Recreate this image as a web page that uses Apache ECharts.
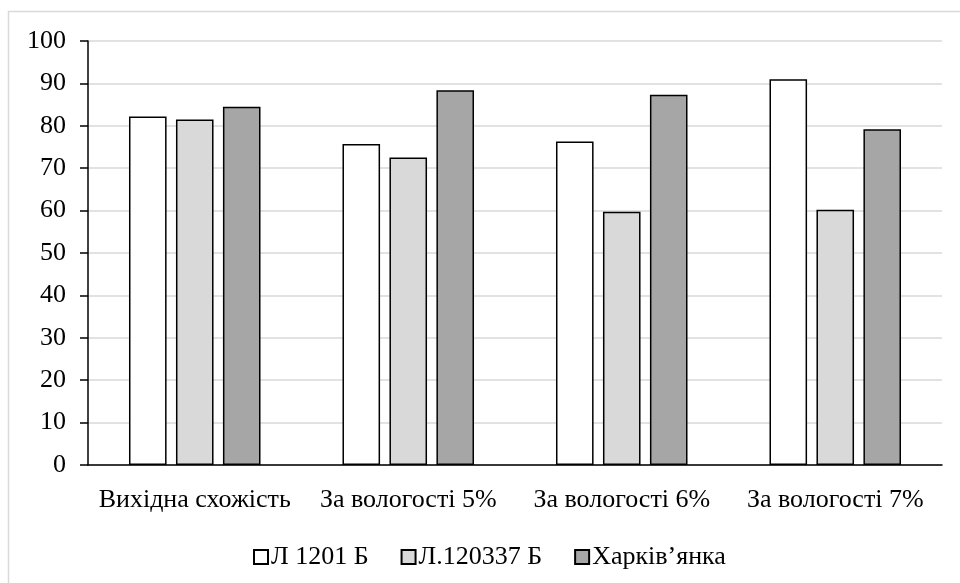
<!DOCTYPE html>
<html>
<head>
<meta charset="utf-8">
<script src="https://cdn.jsdelivr.net/npm/echarts@6/dist/echarts.min.js"></script>
<style>html,body{margin:0;padding:0;background:#fff}#c{width:960px;height:583px}</style>
</head>
<body>
<div id="c"></div>
<script>
const categories = ['Вихідна схожість', 'За вологості 5%', 'За вологості 6%', 'За вологості 7%'];
const seriesNames = ['Л 1201 Б', 'Л.120337 Б', 'Харків\u2019янка'];
const valuesL1201 = [82.2, 75.7, 76.3, 91.0];
const valuesL120337 = [81.5, 72.5, 59.7, 60.2];
const valuesKharkiv = [84.5, 88.4, 87.3, 79.2];
const yTicks = [0, 10, 20, 30, 40, 50, 60, 70, 80, 90, 100];

const colors = ['#ffffff', '#d9d9d9', '#a6a6a6'];
const font = '"Liberation Serif", "Times New Roman", serif';
const chart = echarts.init(document.getElementById('c'), null, {renderer: 'canvas'});
const dataSets = [valuesL1201, valuesL120337, valuesKharkiv];
chart.setOption({
  animation: false,
  graphic: [{
    type: 'rect', shape: {x: 8.5, y: 11.5, width: 1000, height: 600},
    style: {fill: 'none', stroke: '#d9d9d9', lineWidth: 1.5}, silent: true, z: -1
  }],
  grid: {left: 88, right: 18, top: 41, bottom: 118},
  legend: {
    left: 248, top: 539, itemWidth: 14, itemHeight: 14, itemGap: 32,
    icon: 'rect',
    textStyle: {fontFamily: font, fontSize: 26, color: '#000', padding: [0, 0, 0, -2]},
    data: seriesNames
  },
  xAxis: {
    type: 'category', data: categories,
    axisLine: {lineStyle: {color: '#000', width: 1.5}},
    axisTick: {show: false},
    axisLabel: {fontFamily: font, fontSize: 26, color: '#000', margin: 22, interval: 0}
  },
  yAxis: {
    type: 'value', min: yTicks[0], max: yTicks[yTicks.length - 1], interval: 10,
    axisLine: {show: true, lineStyle: {color: '#000', width: 1.5}},
    axisTick: {show: true, length: 8, lineStyle: {color: '#000', width: 1.5}},
    splitLine: {lineStyle: {color: '#d9d9d9', width: 1.5}},
    axisLabel: {fontFamily: font, fontSize: 26, color: '#000', margin: 22}
  },
  series: seriesNames.map((n, i) => ({
    name: n, type: 'bar', data: dataSets[i],
    barWidth: '17.6%', barGap: '25%',
    itemStyle: {color: colors[i], borderColor: '#000', borderWidth: 1.5}
  }))
});
</script>
</body>
</html>
